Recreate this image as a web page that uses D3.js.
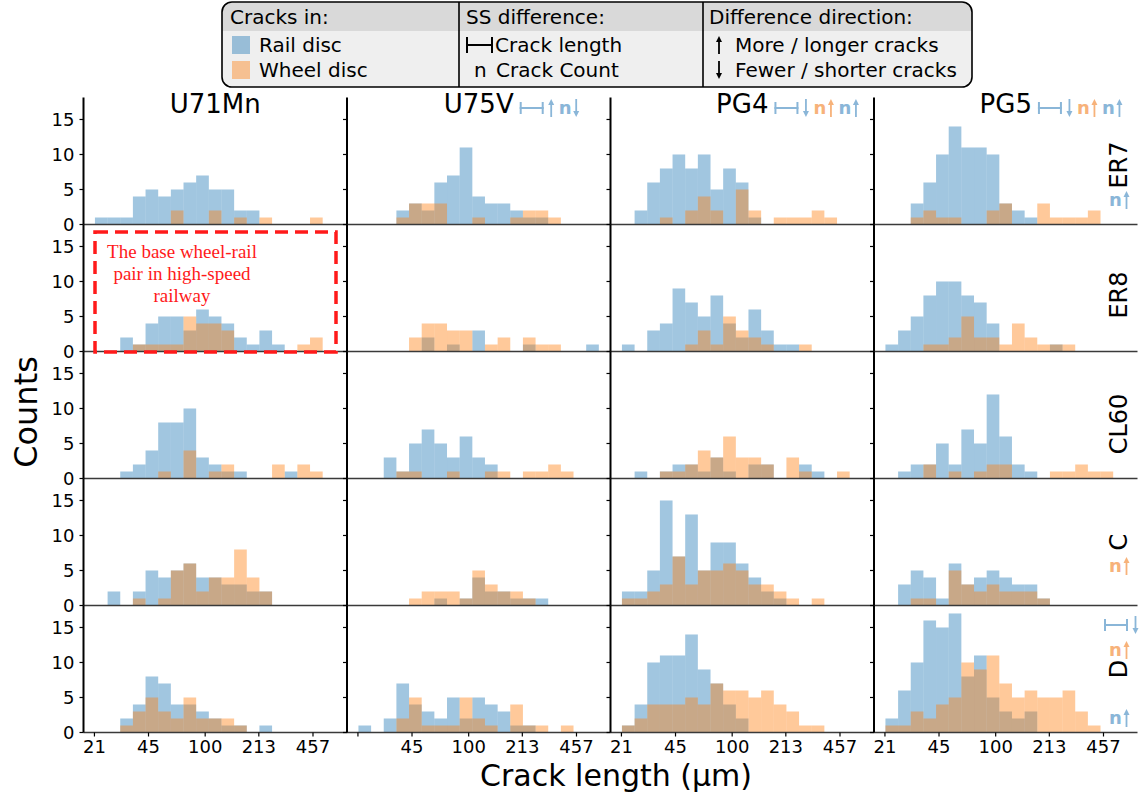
<!DOCTYPE html>
<html><head><meta charset="utf-8">
<script src="https://cdn.jsdelivr.net/npm/d3@7"></script>
<style>body{margin:0;background:#fff} text{font-family:"DejaVu Sans",sans-serif;fill:#000}</style>
</head><body><svg id="c" width="1140" height="799"></svg>
<script>
const columns = ["U71Mn","U75V","PG4","PG5"];
const rows = ["ER7","ER8","CL60","C","D"];
const binEdges = [21.15,25.28,30.21,36.11,43.16,51.58,61.65,73.69,88.07,105.3,125.8,150.4,179.7,214.8,256.7,306.8,366.7,438.3,523.9,626.2,748.4];
const xTickValues = [21,45,100,213,457];
const xTickShown = [[21,45,100,213,457],[45,100,213,457],[21,45,100,213,457],[21,45,100,213,457]];
const yTickValues = [0,5,10,15];

// counts per bin, one array per column (U71Mn, U75V, PG4, PG5)
const railER7 = [
 [1,1,1,4,5,4,5,6,7,5,5,2,2,0,0,0,0,0,0,0],
 [0,0,0,2,3,2,6,7,11,4,3,3,2,1,1,0,0,0,0,0],
 [0,2,6,8,10,8,10,5,8,6,1,0,0,0,0,0,0,0,0,0],
 [0,0,3,6,10,14,11,11,10,3,2,1,0,0,0,0,0,0,0,0]];
const wheelER7 = [
 [0,0,0,0,0,0,2,0,0,2,0,1,0,1,0,0,0,1,0,0],
 [0,0,0,1,3,3,3,0,0,1,0,0,1,2,2,1,0,0,0,0],
 [0,0,0,1,0,2,4,2,0,5,2,0,1,1,1,2,1,0,0,0],
 [0,0,1,2,1,1,0,0,2,3,0,0,3,1,1,1,2,0,0,0]];
const railER8 = [
 [0,0,2,1,4,5,5,3,6,5,4,2,1,3,1,0,0,0,0,0],
 [0,0,0,0,0,2,0,1,0,3,0,0,0,1,0,0,0,0,1,0],
 [1,0,3,4,9,7,5,8,4,2,6,3,1,1,0,0,0,0,0,0],
 [1,3,5,8,10,10,8,7,4,0,0,0,0,1,0,0,0,0,0,0]];
const wheelER8 = [
 [0,0,0,1,1,1,1,5,4,4,3,0,0,0,0,0,1,2,0,0],
 [0,0,0,0,2,4,4,3,3,0,1,2,0,2,1,1,0,0,0,0],
 [0,0,0,0,0,1,3,1,5,3,2,1,0,0,1,0,0,0,0,0],
 [0,0,0,1,1,2,5,2,2,1,4,2,1,1,1,0,0,0,0,0]];
const railCL60 = [
 [0,0,1,2,4,8,8,10,3,2,1,1,0,0,0,1,0,0,0,0],
 [0,0,3,1,5,7,5,3,6,3,2,0,0,0,0,0,0,0,0,0],
 [0,1,0,1,2,2,1,3,1,0,2,2,0,0,2,1,0,0,0,0],
 [0,1,2,2,5,2,7,5,12,6,2,1,0,0,0,0,0,0,0,0]];
const wheelCL60 = [
 [0,0,0,0,0,1,0,4,0,1,2,0,0,0,2,0,2,1,0,0],
 [0,0,0,1,1,0,0,1,0,0,1,1,0,1,1,2,1,0,0,0],
 [0,0,0,1,1,2,4,3,6,3,3,2,0,3,1,0,0,1,0,0],
 [0,0,0,2,0,1,0,1,2,2,0,0,0,1,1,2,1,1,0,0]];
const railC = [
 [0,2,0,2,5,4,5,6,4,4,3,3,2,2,0,0,0,0,0,0],
 [0,0,0,0,0,0,1,0,1,4,2,2,1,1,1,0,0,0,0,0],
 [2,2,5,15,7,13,5,9,9,6,4,2,1,0,0,0,0,0,0,0],
 [0,3,5,4,1,6,3,4,5,4,3,3,1,0,0,0,0,0,0,0]];
const wheelC = [
 [0,0,0,1,0,1,5,6,2,4,4,8,4,2,0,0,0,0,0,0],
 [0,0,0,0,1,2,2,2,1,5,3,2,2,1,0,0,0,0,0,0],
 [1,1,2,3,7,3,5,5,6,5,3,3,2,1,0,1,0,0,0,0],
 [0,0,1,1,0,5,3,2,3,2,2,2,1,0,0,0,0,0,0,0]];
const railD = [
 [0,0,2,4,8,7,4,4,3,2,1,1,0,1,0,0,0,0,0,0],
 [1,0,2,7,4,3,2,5,2,5,4,3,1,1,0,0,0,0,0,0],
 [1,4,10,11,11,14,9,7,4,2,0,0,0,0,0,0,0,0,0,0],
 [2,6,10,16,15,17,8,11,5,3,2,3,0,0,0,0,0,0,0,0]];
const wheelD = [
 [0,0,1,3,5,3,2,5,2,2,2,1,0,0,0,0,0,0,0,0],
 [0,0,0,2,5,1,1,1,5,2,1,0,4,1,1,0,1,0,0,0],
 [1,2,4,4,4,5,4,7,6,6,5,6,4,3,1,1,0,0,0,0],
 [1,1,3,2,4,5,10,9,11,7,5,6,5,5,6,3,1,0,0,0]];
const railData = [railER7, railER8, railCL60, railC, railD];
const wheelData = [wheelER7, wheelER8, wheelCL60, wheelC, wheelD];

// significance annotations: L = crack length bar, u = up arrow, d = down arrow, n = count; b/o = colour
const colNotes = [[], [["L","b"],["u","b"],["n","b"],["d","b"]],
  [["L","b"],["d","b"],["n","o"],["u","o"],["n","b"],["u","b"]],
  [["L","b"],["d","b"],["n","o"],["u","o"],["n","b"],["u","b"]]];

const legendSeries = ["Rail disc","Wheel disc"];
const legendSS = ["Crack length","Crack Count"];
const legendDir = ["More / longer cracks","Fewer / shorter cracks"];

const railColor = "#1f77b4", wheelColor = "#ff7f0e", alpha = 0.42;
const noteColor = {b:"#8ab6d8", o:"#f7b27a"};

const svg = d3.select("#c");
svg.append("rect").attr("width",1140).attr("height",799).attr("fill","#fff");

const panelW = 263.5, panelH = 127, left0 = 83.5, top0 = 97.5;
const x = d3.scaleLog().domain([18,738]).range([0,panelW]);
const y = d3.scaleLinear().domain([0,18.14]).range([panelH,0]);

function drawBars(g, counts, color){
  const bins = counts.map((c,k)=>({c, x0:binEdges[k], x1:binEdges[k+1]})).filter(d=>d.c>0);
  g.selectAll(null).data(bins).enter().append("rect")
    .attr("x", d=>x(d.x0))
    .attr("width", d=>Math.min(x(d.x1),panelW)-x(d.x0))
    .attr("y", d=>y(d.c)).attr("height", d=>y(0)-y(d.c))
    .attr("fill", color).attr("fill-opacity", alpha);
}

rows.forEach((rName,r)=>{
  columns.forEach((cName,c)=>{
    const g = svg.append("g").attr("transform",`translate(${left0+c*panelW},${top0+r*panelH})`);
    drawBars(g, railData[r][c], railColor);
    drawBars(g, wheelData[r][c], wheelColor);
    g.append("line").attr("x1",0).attr("x2",panelW).attr("y1",panelH).attr("y2",panelH)
      .attr("stroke","#3a3a3a").attr("stroke-width",1.6);
    g.append("line").attr("x1",0).attr("x2",0).attr("y1",0).attr("y2",panelH)
      .attr("stroke","#000").attr("stroke-width",2);
    yTickValues.forEach(v=>{
      g.append("line").attr("x1",-4).attr("x2",0).attr("y1",y(v)).attr("y2",y(v))
        .attr("stroke","#000").attr("stroke-width",1.2);
      if(c===0) g.append("text").attr("x",-9).attr("y",y(v)).attr("dy","0.36em")
        .attr("text-anchor","end").attr("font-size",18).text(v);
    });
    if(r===rows.length-1){
      xTickValues.forEach(v=>{
        g.append("line").attr("x1",x(v)).attr("x2",x(v)).attr("y1",panelH).attr("y2",panelH+4)
          .attr("stroke","#000").attr("stroke-width",1.2);
        if(xTickShown[c].includes(v))
          g.append("text").attr("x",x(v)).attr("y",panelH+20).attr("text-anchor","middle")
            .attr("font-size",18).text(v);
      });
    }
  });
});

// glyph helpers
function drawArrow(g, cx, cy, dir, color, h){
  h = h||18; const t = cy-h/2, b = cy+h/2;
  g.append("line").attr("x1",cx).attr("x2",cx).attr("y1",dir==="u"?t+4:t).attr("y2",dir==="u"?b:b-4)
    .attr("stroke",color).attr("stroke-width",1.8);
  const p = dir==="u" ? `M${cx-3},${t+6}L${cx},${t}L${cx+3},${t+6}Z` : `M${cx-3},${b-6}L${cx},${b}L${cx+3},${b-6}Z`;
  g.append("path").attr("d",p).attr("fill",color);
}
function drawLenBar(g, x0, cy, w, color, h){
  h = h||12;
  g.append("line").attr("x1",x0).attr("x2",x0+w).attr("y1",cy).attr("y2",cy).attr("stroke",color).attr("stroke-width",2);
  g.append("line").attr("x1",x0+1).attr("x2",x0+1).attr("y1",cy-h/2).attr("y2",cy+h/2).attr("stroke",color).attr("stroke-width",2);
  g.append("line").attr("x1",x0+w-1).attr("x2",x0+w-1).attr("y1",cy-h/2).attr("y2",cy+h/2).attr("stroke",color).attr("stroke-width",2);
}
function drawNotes(g, items, x0, cy){
  let xx = x0;
  items.forEach(([s,cl])=>{
    const col = noteColor[cl];
    if(s==="L"){ drawLenBar(g, xx, cy, 24, col); xx += 29; }
    else if(s==="n"){ g.append("text").attr("x",xx).attr("y",cy+6).attr("font-size",18).attr("font-weight","bold")
        .style("fill",col).text("n"); xx += 15; }
    else { drawArrow(g, xx+2.5, cy, s, col); xx += 10; }
  });
}

// column titles
const ann = svg.append("g");
columns.forEach((cName,c)=>{
  const cx = left0 + c*panelW + panelW/2;
  const t = ann.append("text").attr("x",cx).attr("y",113).attr("text-anchor","middle").attr("font-size",26).text(cName);
  const w = t.node().getComputedTextLength();
  drawNotes(ann, colNotes[c], cx + w/2 + 6, 108);
});

// row labels
const rowLabelX = 1127;
rows.forEach((rName,r)=>{
  const cy = top0 + r*panelH + panelH/2 + (r===0?4:r===1?7:r===2?9:0);
  ann.append("text").attr("transform",`translate(${rowLabelX},${cy}) rotate(-90)`)
    .attr("text-anchor","middle").attr("font-size",24).text(rName);
});
drawNotes(ann, [["n","b"],["u","b"]], 1109, 200);
drawNotes(ann, [["n","o"],["u","o"]], 1109, 566);
drawNotes(ann, [["L","b"],["d","b"]], 1104, 625);
drawNotes(ann, [["n","o"],["u","o"]], 1109, 650);
drawNotes(ann, [["n","b"],["u","b"]], 1109, 718);

// red annotation box
svg.append("rect").attr("x",95).attr("y",232).attr("width",241).attr("height",120)
  .attr("fill","none").attr("stroke","#ff1a1a").attr("stroke-width",3.5).attr("stroke-dasharray","13,7");
["The base wheel-rail","pair in high-speed","railway"].forEach((s,i)=>{
  svg.append("text").attr("x",182).attr("y",258+i*22).attr("text-anchor","middle")
    .attr("font-size",19).style("font-family","'Liberation Serif',serif").style("fill","#ff1a1a").text(s);
});

// axis labels
svg.append("text").attr("x",616).attr("y",786).attr("text-anchor","middle").attr("font-size",30).text("Crack length (μm)");
svg.append("text").attr("transform","translate(37,412) rotate(-90)").attr("text-anchor","middle").attr("font-size",32).text("Counts");

// legend
const lg = svg.append("g");
lg.append("rect").attr("x",222).attr("y",2).attr("width",750).attr("height",85).attr("rx",10).attr("fill","#efefef");
lg.append("path").attr("d","M232,2 H962 A10,10 0 0 1 972,12 V31 H222 V12 A10,10 0 0 1 232,2 Z").attr("fill","#d9d9d9");
lg.append("rect").attr("x",222).attr("y",2).attr("width",750).attr("height",85).attr("rx",10).attr("fill","none").attr("stroke","#000").attr("stroke-width",1.6);
[459,703].forEach(v=>lg.append("line").attr("x1",v).attr("x2",v).attr("y1",2).attr("y2",87).attr("stroke","#000").attr("stroke-width",1.6));
lg.append("text").attr("x",230).attr("y",24).attr("font-size",20).text("Cracks in:");
lg.append("text").attr("x",466).attr("y",24).attr("font-size",20).text("SS difference:");
lg.append("text").attr("x",709).attr("y",24).attr("font-size",20).text("Difference direction:");
[railColor, wheelColor].forEach((col,i)=>{
  lg.append("rect").attr("x",232).attr("y",36+i*25).attr("width",18).attr("height",18).attr("fill",col).attr("fill-opacity",alpha);
  lg.append("text").attr("x",259).attr("y",52+i*25).attr("font-size",20).text(legendSeries[i]);
});
drawLenBar(lg, 466, 45, 27, "#000", 16);
lg.append("text").attr("x",495).attr("y",52).attr("font-size",20).text(legendSS[0]);
lg.append("text").attr("x",474).attr("y",77).attr("font-size",20).text("n");
lg.append("text").attr("x",496).attr("y",77).attr("font-size",20).text(legendSS[1]);
drawArrow(lg, 719, 45, "u", "#000", 18);
drawArrow(lg, 719, 70, "d", "#000", 18);
lg.append("text").attr("x",735).attr("y",52).attr("font-size",20).text(legendDir[0]);
lg.append("text").attr("x",735).attr("y",77).attr("font-size",20).text(legendDir[1]);
</script></body></html>
